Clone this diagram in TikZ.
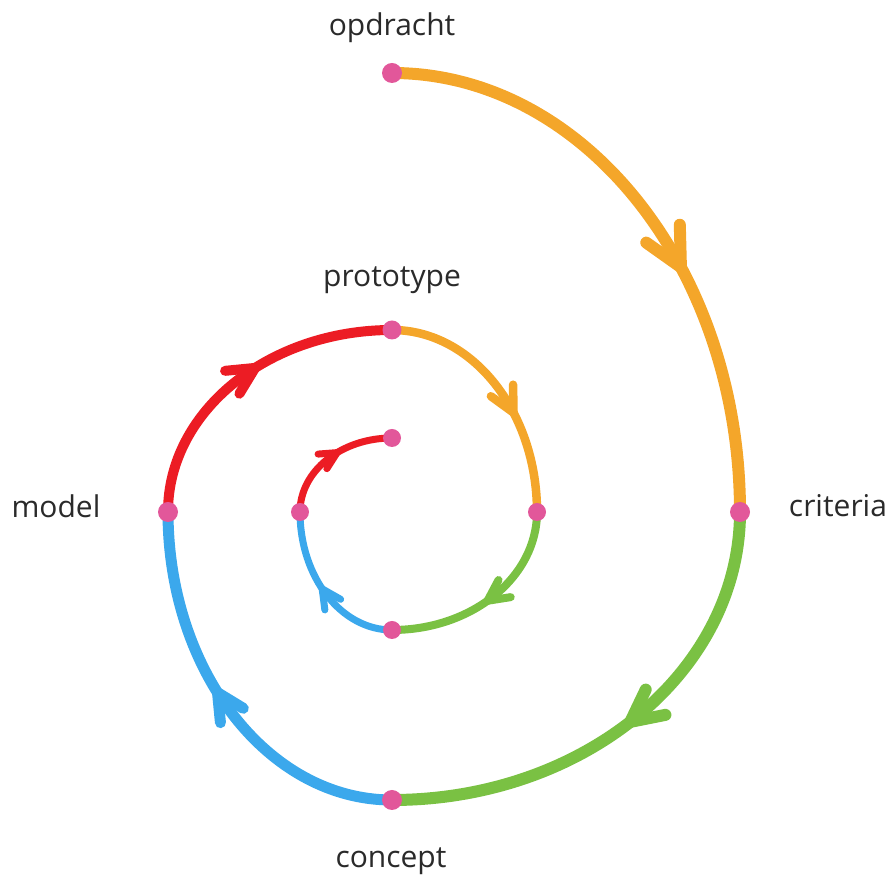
\documentclass[tikz,border=0pt]{standalone}
\usepackage{fontspec}
\setmainfont{Open Sans}
\usetikzlibrary{decorations.markings}
\definecolor{cOrange}{HTML}{F4A62A}
\definecolor{cGreen}{HTML}{7AC143}
\definecolor{cBlue}{HTML}{3BA8EC}
\definecolor{cRed}{HTML}{EC1C24}
\definecolor{cDot}{HTML}{E2579A}
\definecolor{cText}{HTML}{2A2A2A}
\tikzset{
  dotnode/.style={circle, fill=cDot, inner sep=0pt, minimum size=#1pt},
  lbl/.style={text=cText, anchor=base, font=\fontsize{30}{35}\selectfont, inner sep=0pt},
  seg/.style n args={4}{draw=#1, line width=#2pt, postaction={decorate},
    decoration={markings, mark=at position #3 with {\draw[#1, line width=#2pt, line cap=round, line join=round]
      (-#4pt,0.5*#4pt) -- (0pt,0pt) -- (-#4pt,-0.5*#4pt);}}}
}
\begin{document}
\begin{tikzpicture}[x=1pt,y=1pt]
\useasboundingbox (0,0) rectangle (895,881);
% points
\coordinate (pOpd) at (392,808);
\coordinate (pCrit) at (740,369);
\coordinate (pConc) at (392,81);
\coordinate (pModel) at (168,369);
\coordinate (pProto) at (392,551);
\coordinate (pR2) at (537,369);
\coordinate (pB2) at (392,251);
\coordinate (pL2) at (300,369);
\coordinate (pEnd) at (392,443);
% arcs
\draw[seg={cOrange}{12}{0.59}{38}] (pOpd) arc[start angle=90, end angle=0, x radius=348pt, y radius=439pt];
\draw[seg={cGreen}{12}{0.49}{32}] (pCrit) arc[start angle=0, end angle=-90, x radius=348pt, y radius=288pt];
\draw[seg={cBlue}{11}{0.53}{27}] (pConc) arc[start angle=270, end angle=180, x radius=224pt, y radius=288pt];
\draw[seg={cRed}{10}{0.55}{27}] (pModel) arc[start angle=180, end angle=90, x radius=224pt, y radius=182pt];
\draw[seg={cOrange}{8.5}{0.6}{25}] (pProto) arc[start angle=90, end angle=0, x radius=145pt, y radius=182pt];
\draw[seg={cGreen}{8}{0.51}{21}] (pR2) arc[start angle=0, end angle=-90, x radius=145pt, y radius=118pt];
\draw[seg={cBlue}{7}{0.51}{19}] (pB2) arc[start angle=270, end angle=180, x radius=92pt, y radius=118pt];
\draw[seg={cRed}{7}{0.56}{17}] (pL2) arc[start angle=180, end angle=90, x radius=92pt, y radius=74pt];
% dots
\node[dotnode=20] (dOpd) at (pOpd) {};
\node[dotnode=20] (dCrit) at (pCrit) {};
\node[dotnode=20] (dConc) at (pConc) {};
\node[dotnode=20] (dModel) at (pModel) {};
\node[dotnode=19] (dProto) at (pProto) {};
\node[dotnode=18] (dR2) at (pR2) {};
\node[dotnode=18] (dB2) at (pB2) {};
\node[dotnode=18] (dL2) at (pL2) {};
\node[dotnode=18] (dEnd) at (pEnd) {};
% labels
\node[lbl] (tOpd) at (392,845) {opdracht};
\node[lbl] (tProto) at (392,594) {prototype};
\node[lbl] (tModel) at (56,363) {model};
\node[lbl] (tCrit) at (838,364) {criteria};
\node[lbl] (tConc) at (391,13) {concept};
\end{tikzpicture}
\end{document}
